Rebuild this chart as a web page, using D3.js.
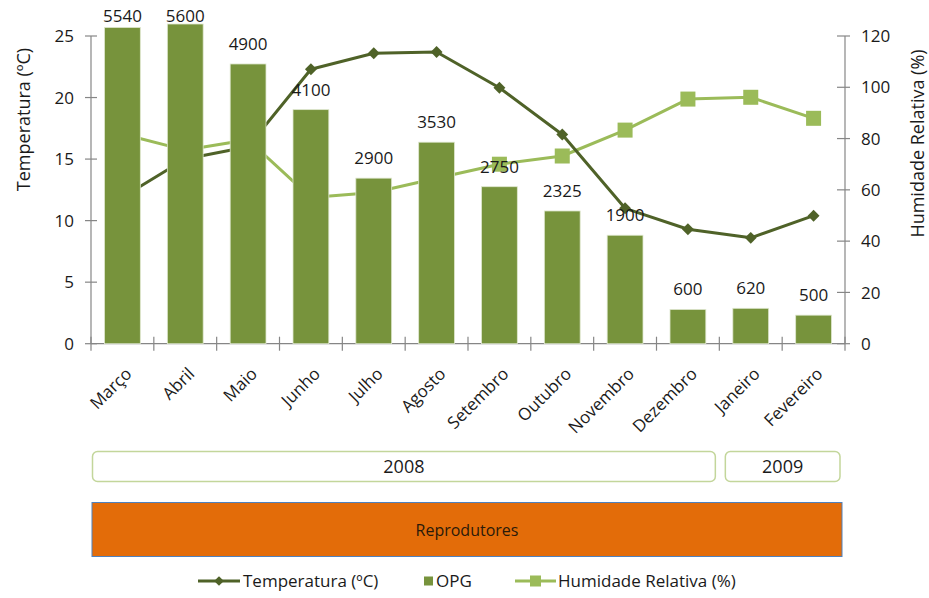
<!DOCTYPE html>
<html>
<head>
<meta charset="utf-8">
<script src="https://cdn.jsdelivr.net/npm/d3@7"></script>
<style>
  html, body { margin: 0; padding: 0; background: #fff; }
  svg { display: block; font-family: "Open Sans", "Noto Sans", sans-serif; }
</style>
</head>
<body>
<svg id="chart" width="929" height="598"></svg>
<script>
// Monthly series, March 2008 – February 2009
const months = ["Março", "Abril", "Maio", "Junho", "Julho", "Agosto", "Setembro",
                "Outubro", "Novembro", "Dezembro", "Janeiro", "Fevereiro"];
const opg = [5540, 5600, 4900, 4100, 2900, 3530, 2750, 2325, 1900, 600, 620, 500];
const temperatura = [11.9, 15.0, 16.0, 22.3, 23.6, 23.7, 20.8, 17.0, 11.0, 9.3, 8.6, 10.4];
const humidade = [81.8, 75.5, 79.5, 57.0, 59.0, 64.5, 70.0, 73.2, 83.3, 95.4, 96.1, 87.9];
const tempTicks = [0, 5, 10, 15, 20, 25];
const humTicks = [0, 20, 40, 60, 80, 100, 120];
const years = [{ label: "2008", from: 0, to: 9 }, { label: "2009", from: 10, to: 11 }];
const phase = "Reprodutores";
const legendItems = ["Temperatura (ºC)", "OPG", "Humidade Relativa (%)"];

const C = {
  bar: "#77933c",
  temp: "#4f6228",
  hum: "#9bbb59",
  axis: "#868686",
  text: "#1a1a1a",
  box: "#c3d69b",
  phase: "#e36c09",
  phaseEdge: "#4f81bd"
};

const svg = d3.select("#chart");
const left = 91, right = 845, y0 = 343.7, yTop = 36;

const x = d3.scaleBand().domain(months).range([left, right])
  .paddingInner(0.43).paddingOuter(0.215);
const step = x.step();
const cx = m => x(m) + x.bandwidth() / 2;

const yTemp = d3.scaleLinear().domain([0, 25]).range([y0, yTop]);
const yHum = d3.scaleLinear().domain([0, 120]).range([y0, yTop]);
const yOpg = d3.scaleLinear().domain([0, 5390]).range([y0, yTop]);

// Axes
const axisG = svg.append("g").attr("stroke", C.axis).attr("stroke-width", 1.2);
axisG.append("line").attr("x1", left).attr("x2", left).attr("y1", yTop).attr("y2", y0);
axisG.append("line").attr("x1", right).attr("x2", right).attr("y1", yTop).attr("y2", y0);
axisG.append("line").attr("x1", left).attr("x2", right).attr("y1", y0).attr("y2", y0);

tempTicks.forEach(t => {
  axisG.append("line").attr("x1", left - 6).attr("x2", left + 6)
    .attr("y1", yTemp(t)).attr("y2", yTemp(t));
});
humTicks.forEach(t => {
  axisG.append("line").attr("x1", right - 8).attr("x2", right + 5)
    .attr("y1", yHum(t)).attr("y2", yHum(t));
});
d3.range(months.length + 1).forEach(i => {
  const xb = left + i * step;
  axisG.append("line").attr("x1", xb).attr("x2", xb).attr("y1", y0 - 7).attr("y2", y0 + 7);
});

svg.append("g").selectAll("text").data(tempTicks).join("text")
  .attr("x", 74).attr("y", d => yTemp(d)).attr("dy", "0.36em")
  .attr("text-anchor", "end").attr("font-size", 17).attr("fill", C.text)
  .text(d => d);
svg.append("g").selectAll("text").data(humTicks).join("text")
  .attr("x", 861).attr("y", d => yHum(d)).attr("dy", "0.36em")
  .attr("text-anchor", "start").attr("font-size", 17).attr("fill", C.text)
  .text(d => d);

svg.append("text")
  .attr("transform", `translate(30,${(42 + 197) / 2}) rotate(-90)`)
  .attr("text-anchor", "middle").attr("font-size", 18).attr("fill", C.text)
  .text("Temperatura  (ºC)");
svg.append("text")
  .attr("transform", `translate(924,${(40 + 247) / 2}) rotate(-90)`)
  .attr("text-anchor", "middle").attr("font-size", 18).attr("fill", C.text)
  .text("Humidade  Relativa  (%)");

// Month labels
svg.append("g").selectAll("text").data(months).join("text")
  .attr("transform", d => `translate(${cx(d) + 6},${y0 + 27}) rotate(-45)`)
  .attr("text-anchor", "end").attr("dy", "0.35em")
  .attr("font-size", 17).attr("fill", C.text)
  .text(d => d);

// Lines sit behind the bars
const lineTemp = d3.line().x((d, i) => cx(months[i])).y(d => yTemp(d));
const lineHum = d3.line().x((d, i) => cx(months[i])).y(d => yHum(d));

svg.append("path").datum(humidade).attr("d", lineHum)
  .attr("fill", "none").attr("stroke", C.hum).attr("stroke-width", 3)
  .attr("stroke-linejoin", "round");
svg.append("g").selectAll("rect").data(humidade).join("rect")
  .attr("x", (d, i) => cx(months[i]) - 7.5).attr("y", d => yHum(d) - 7.5)
  .attr("width", 15).attr("height", 15).attr("fill", C.hum);

svg.append("path").datum(temperatura).attr("d", lineTemp)
  .attr("fill", "none").attr("stroke", C.temp).attr("stroke-width", 3)
  .attr("stroke-linejoin", "round");
svg.append("g").selectAll("path").data(temperatura).join("path")
  .attr("d", d3.symbol(d3.symbolDiamond2, 90))
  .attr("transform", (d, i) => `translate(${cx(months[i])},${yTemp(d)})`)
  .attr("fill", C.temp);

// Bars
svg.append("g").selectAll("rect").data(opg).join("rect")
  .attr("x", (d, i) => x(months[i])).attr("width", x.bandwidth())
  .attr("y", d => yOpg(d)).attr("height", d => y0 - yOpg(d))
  .attr("fill", C.bar).attr("stroke", "#dfe7cf").attr("stroke-width", 0.8);

// Bar value labels
svg.append("g").selectAll("text").data(opg).join("text")
  .attr("x", (d, i) => cx(months[i]))
  .attr("y", d => Math.max(yOpg(d) - 14, 22))
  .attr("text-anchor", "middle").attr("font-size", 17).attr("fill", C.text)
  .text(d => d);

// Year boxes
const boxX0 = d => left + d.from * step + (d.from > 0 ? 6 : 1.5);
const boxX1 = d => left + (d.to + 1) * step - (d.to < months.length - 1 ? 4 : 5);
const yearG = svg.append("g");
yearG.selectAll("rect").data(years).join("rect")
  .attr("x", boxX0).attr("width", d => boxX1(d) - boxX0(d))
  .attr("y", 451.5).attr("height", 30).attr("rx", 5)
  .attr("fill", "#fff").attr("stroke", C.box).attr("stroke-width", 1.5);
yearG.selectAll("text").data(years).join("text")
  .attr("x", d => (boxX0(d) + boxX1(d)) / 2)
  .attr("y", 466.5).attr("dy", "0.36em")
  .attr("text-anchor", "middle").attr("font-size", 18).attr("fill", C.text)
  .text(d => d.label);

// Phase bar
svg.append("rect").attr("x", 92).attr("y", 502.5)
  .attr("width", 750).attr("height", 54)
  .attr("fill", C.phase).attr("stroke", C.phaseEdge).attr("stroke-width", 1);
svg.append("text").attr("x", (92 + 842) / 2).attr("y", 530).attr("dy", "0.36em")
  .attr("text-anchor", "middle").attr("font-size", 16).attr("fill", "#2a1a0a")
  .text(phase);

// Legend
const lg = svg.append("g").attr("font-size", 17).attr("fill", C.text);
const ly = 581;
lg.append("line").attr("x1", 198).attr("x2", 240).attr("y1", ly).attr("y2", ly)
  .attr("stroke", C.temp).attr("stroke-width", 3);
lg.append("path").attr("d", d3.symbol(d3.symbolDiamond2, 60))
  .attr("transform", `translate(219,${ly})`).attr("fill", C.temp);
lg.append("text").attr("x", 243).attr("y", ly).attr("dy", "0.36em").text(legendItems[0]);
lg.append("rect").attr("x", 424).attr("y", ly - 4.5).attr("width", 9).attr("height", 9)
  .attr("fill", C.bar);
lg.append("text").attr("x", 436).attr("y", ly).attr("dy", "0.36em").text(legendItems[1]);
lg.append("line").attr("x1", 515).attr("x2", 556).attr("y1", ly).attr("y2", ly)
  .attr("stroke", C.hum).attr("stroke-width", 3);
lg.append("rect").attr("x", 530).attr("y", ly - 5.5).attr("width", 11).attr("height", 11)
  .attr("fill", C.hum);
lg.append("text").attr("x", 558).attr("y", ly).attr("dy", "0.36em").text(legendItems[2]);
</script>
</body>
</html>
